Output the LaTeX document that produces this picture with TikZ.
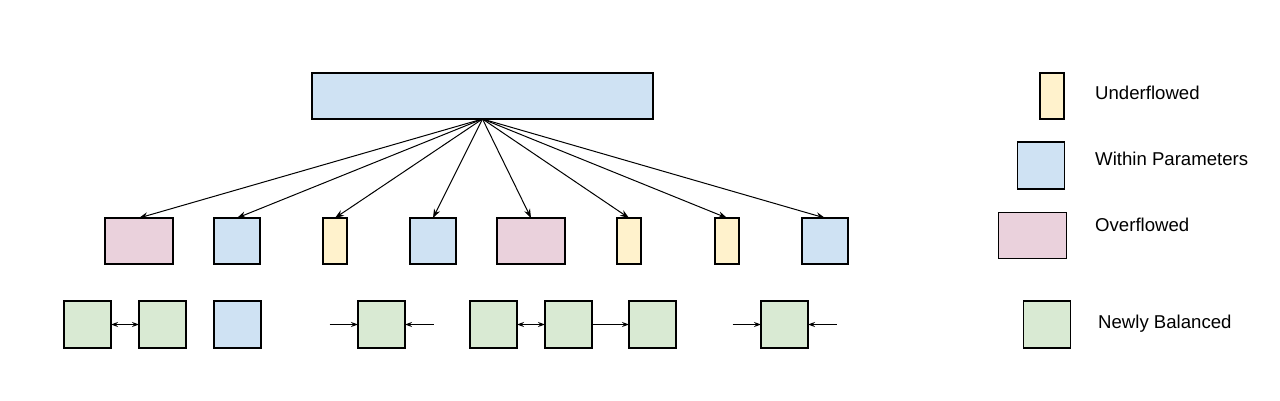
\documentclass[tikz,border=0pt]{standalone}
\usepackage{fontspec}
\setmainfont{Liberation Sans}
\usetikzlibrary{arrows.meta}
\definecolor{cpink}{HTML}{EAD1DC}
\definecolor{cblue}{HTML}{CFE2F3}
\definecolor{cyellow}{HTML}{FFF2CC}
\definecolor{cgreen}{HTML}{D9EAD3}
\begin{document}
\begin{tikzpicture}[x=1pt,y=-1pt,
  bx/.style={draw=black,line width=1.3pt,inner sep=0pt,outer sep=0pt,minimum height=46pt},
  pk/.style={bx,fill=cpink,minimum width=68pt},
  bl/.style={bx,fill=cblue,minimum width=46pt},
  yl/.style={bx,fill=cyellow,minimum width=24pt},
  gr/.style={bx,fill=cgreen,minimum width=47pt,minimum height=47pt},
  lbl/.style={anchor=base west,inner sep=0pt,font=\fontsize{18.6}{21}\selectfont},
  con/.style={line width=1pt,-{Stealth[length=9pt,width=6.5pt]}},
  sm/.style={line width=1.2pt,-{Stealth[length=7pt,width=5pt]}},
  smb/.style={line width=1.2pt,{Stealth[length=7pt,width=5pt]}-{Stealth[length=7pt,width=5pt]}}]
\useasboundingbox (0,0) rectangle (1280,401);
% top
\node[bl,minimum width=341pt] (top) at (482.5,96) {};
% middle row
\node[pk] (m1) at (139,241) {};
\node[bl] (m2) at (237,241) {};
\node[yl] (m3) at (335,241) {};
\node[bl] (m4) at (433,241) {};
\node[pk] (m5) at (531,241) {};
\node[yl] (m6) at (629,241) {};
\node[yl] (m7) at (727,241) {};
\node[bl] (m8) at (825,241) {};
\foreach \i in {1,...,8} \draw[con] (top.south) -- (m\i.north);
% bottom row
\node[gr] (g1) at (87.5,324.5) {};
\node[gr] (g2) at (162.5,324.5) {};
\node[bl,minimum width=47pt,minimum height=47pt] (b1) at (237.5,324.5) {};
\node[gr] (g3) at (381.5,324.5) {};
\node[gr] (g4) at (493.5,324.5) {};
\node[gr] (g5) at (568.5,324.5) {};
\node[gr] (g6) at (652.5,324.5) {};
\node[gr] (g7) at (784.5,324.5) {};
\coordinate (a1) at (329.5,324.5);
\coordinate (a2) at (433.5,324.5);
\coordinate (a3) at (732.5,324.5);
\coordinate (a4) at (836.5,324.5);
\draw[smb] (g1.east) -- (g2.west);
\draw[sm] (a1) -- (g3.west);
\draw[sm] (a2) -- (g3.east);
\draw[smb] (g4.east) -- (g5.west);
\draw[sm] (g5.east) -- (g6.west);
\draw[sm] (a3) -- (g7.west);
\draw[sm] (a4) -- (g7.east);
% legend
\node[yl] (ly) at (1052,96) {};
\node[bl,minimum width=47pt,minimum height=47pt] (lb) at (1041,165.5) {};
\node[pk] (lp) at (1032.5,235.5) {};
\node[gr] (lg) at (1047,324.5) {};
\node[lbl] (ty) at (1095,100) {Underflowed};
\node[lbl] (tb) at (1095,166) {Within Parameters};
\node[lbl] (tp) at (1095,231.7) {Overflowed};
\node[lbl] (tg) at (1098,328.3) {Newly Balanced};
\end{tikzpicture}
\end{document}
